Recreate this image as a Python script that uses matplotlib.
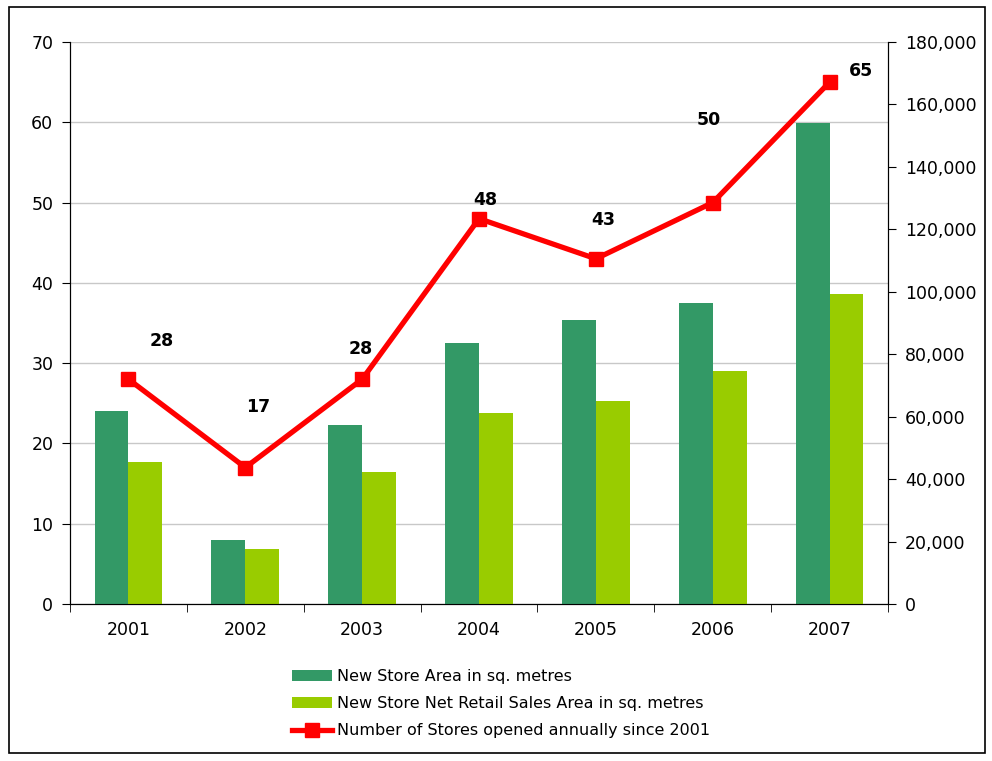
import numpy as np
import matplotlib
matplotlib.use("Agg")
import matplotlib.pyplot as plt
from matplotlib.patches import Rectangle
from matplotlib.ticker import FuncFormatter

years = ["2001", "2002", "2003", "2004", "2005", "2006", "2007"]
store_area = [61800, 20500, 57300, 83600, 91000, 96500, 154100]
net_sales_area = [45500, 17600, 42300, 61200, 65000, 74700, 99300]
stores_opened = [28, 17, 28, 48, 43, 50, 65]
# label offsets (pixels) relative to each marker, as in the original
label_dx = [33, 13, -1, 6, 7, -4, 31]
label_dy = [38, 61, 30, 19, 39, 83, 11]

dark_green = "#339966"
light_green = "#99CC00"
red = "#FF0000"

fig = plt.figure(figsize=(9.92, 7.61), dpi=100)
fig.patches.append(Rectangle((0.009, 0.011), 0.984, 0.98, transform=fig.transFigure,
                             fill=False, edgecolor="black", linewidth=1.2))

ax = fig.add_axes([0.0706, 0.2063, 0.8246, 0.7385])
ax2 = ax.twinx()
ax3 = ax.twinx()

x = np.arange(len(years))
w = 0.29

# left axis: grid + ticks
ax.set_ylim(0, 70)
ax.set_yticks(np.arange(0, 71, 10))
ax.grid(axis="y", color="#C8C8C8", linewidth=1)
ax.set_axisbelow(True)
ax.set_xlim(-0.5, len(years) - 0.5)
ax.set_xticks(x)
ax.set_xticklabels(years)
ax.set_xticks(np.arange(-0.5, len(years), 1), minor=True)
ax.tick_params(axis="x", which="major", length=0, pad=12, labelsize=12.5)
ax.tick_params(axis="x", which="minor", length=6, direction="out", color="black")
ax.tick_params(axis="y", length=6, direction="out", labelsize=12.5, pad=6)

# right axis: bars
ax2.bar(x - w / 2, store_area, w, color=dark_green, label="New Store Area in sq. metres", zorder=2)
ax2.bar(x + w / 2, net_sales_area, w, color=light_green,
        label="New Store Net Retail Sales Area in sq. metres", zorder=2)
ax2.set_ylim(0, 180000)
ax2.set_yticks(np.arange(0, 180001, 20000))
ax2.yaxis.set_major_formatter(FuncFormatter(lambda v, p: f"{int(v):,}"))
ax2.tick_params(axis="y", length=6, direction="out", labelsize=12.5, pad=6)

for a in (ax, ax2):
    a.spines["top"].set_visible(False)
    for s in ("left", "right", "bottom"):
        a.spines[s].set_color("black")

# line on top
ax3.set_ylim(0, 70)
ax3.axis("off")
ax3.plot(x, stores_opened, color=red, linewidth=3.8, marker="s", markersize=10,
         label="Number of Stores opened annually since 2001")
for i, v in enumerate(stores_opened):
    ax3.annotate(str(v), (x[i], v), xytext=(label_dx[i], label_dy[i]),
                 textcoords="offset pixels", ha="center", va="center",
                 fontsize=12.5, fontweight="bold")

h2, l2 = ax2.get_legend_handles_labels()
h3, l3 = ax3.get_legend_handles_labels()
fig.legend(h2 + h3, l2 + l3, loc="upper center", bbox_to_anchor=(0.505, 0.885 - 0.0),
           frameon=False, fontsize=11.5, handlelength=2.5, handletextpad=0.3,
           labelspacing=0.75, bbox_transform=fig.transFigure)
fig.legends[0].set_bbox_to_anchor((0.505, 1 - 655 / 761), transform=fig.transFigure)

fig.savefig("out.png", dpi=100)
